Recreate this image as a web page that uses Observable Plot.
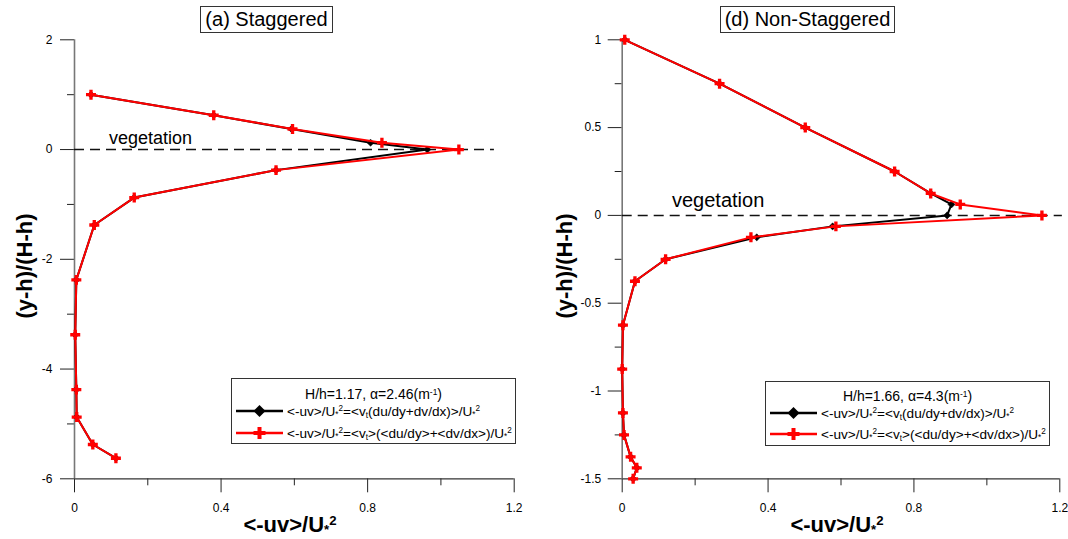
<!DOCTYPE html>
<html><head><meta charset="utf-8">
<script src="https://cdn.jsdelivr.net/npm/d3@7"></script>
<script src="https://cdn.jsdelivr.net/npm/@observablehq/plot@0.6"></script>
<style>
body{margin:0;background:#fff;font-family:Arial,"Liberation Sans",sans-serif;color:#000}
#wrap{position:relative;width:1068px;height:539px;overflow:hidden;background:#fff}
.panel{position:absolute;top:0}
.title{position:absolute;top:6px;height:25px;border:1px solid #333;font-size:20px;line-height:25px;text-align:center;white-space:nowrap}
.ylab{position:absolute;font-size:22px;font-weight:bold;white-space:nowrap;transform:translate(-50%,-50%) rotate(-90deg)}
.xlab{position:absolute;font-size:22px;font-weight:bold;white-space:nowrap;transform:translate(-50%,-50%)}
.veg{position:absolute;white-space:nowrap;transform:translateY(-50%)}
sub.s{font-size:0.6em;vertical-align:-0.15em;line-height:0}
sup.s{font-size:0.6em;vertical-align:0.55em;line-height:0}
.leg{position:absolute;border:1px solid #333;background:#fff;font-size:13.6px}
.leg .lt{position:absolute;left:0;right:0;text-align:center;white-space:nowrap;transform:translateY(-50%)}
.leg .row{position:absolute;white-space:nowrap;transform:translateY(-50%)}
.leg svg{position:absolute;overflow:visible}
sub.t{font-size:0.6em;vertical-align:-0.3em;line-height:0}
sup.m{font-size:0.6em;vertical-align:0.5em;line-height:0}
</style></head><body><div id="wrap"></div>
<script>
// ---- data ----
const yStag = [1, 0.625, 0.375, 0.125, 0, -0.375, -0.875, -1.375, -2.375, -3.375, -4.375, -4.875, -5.375, -5.625];
const stagBlack = [0.045, 0.380, 0.592, 0.808, 0.963, 0.550, 0.163, 0.054, 0.005, 0.002, 0.005, 0.006, 0.050, 0.113];
const stagRed   = [0.045, 0.380, 0.595, 0.839, 1.049, 0.550, 0.163, 0.054, 0.005, 0.002, 0.005, 0.006, 0.050, 0.113];

const yNon = [1, 0.75, 0.5, 0.25, 0.125, 0.0625, 0, -0.0625, -0.125, -0.25, -0.375, -0.625, -0.875, -1.125, -1.25, -1.375, -1.4375, -1.5];
const nonBlack = [0.007, 0.267, 0.502, 0.747, 0.846, 0.903, 0.891, 0.577, 0.369, 0.119, 0.035, 0.002, 0.000, 0.002, 0.005, 0.023, 0.040, 0.030];
const nonRed   = [0.007, 0.267, 0.502, 0.747, 0.846, 0.927, 1.151, 0.586, 0.353, 0.119, 0.035, 0.002, 0.000, 0.002, 0.005, 0.023, 0.040, 0.030];

const xMajor = [0, 0.4, 0.8, 1.2];
const xMinor = [0.2, 0.6, 1.0];
const stagYMajor = [2, 0, -2, -4, -6];
const stagYMinor = [1, -1, -3, -5];
const nonYMajor = [1, 0.5, 0, -0.5, -1, -1.5];
const nonYMinor = [0.75, 0.25, -0.25, -0.75, -1.25];
const stagYDomain = [-6, 2];
const nonYDomain = [-1.5, 1];
const stagVeg = [0, 1.146];
const nonVeg = [0, 1.207];

const titles = ["(a) Staggered", "(d) Non-Staggered"];
const legendTitles = ["H/h=1.17, \u03b1=2.46(m<sup class='m'>-1</sup>)", "H/h=1.66, \u03b1=4.3(m<sup class='m'>-1</sup>)"];

const U2 = "U<sub class='s'>*</sub><sup class='s'>2</sup>";
const legendBlack = "&lt;-uv&gt;/" + U2 + "=&lt;v<sub class='t'>t</sub>(du/dy+dv/dx)&gt;/" + U2;
const legendRed = "&lt;-uv&gt;/" + U2 + "=&lt;v<sub class='t'>t</sub>&gt;(&lt;du/dy&gt;+&lt;dv/dx&gt;)/" + U2;

function rows(xs, ys) { return ys.map((y, i) => ({x: xs[i], y})); }

function panel({black, red, yDomain, yMajor, yMinor, veg, marginLeft, marginRight, tickPadY}) {
  const F = "Arial, 'Liberation Sans', sans-serif";
  return Plot.plot({
    width: 534, height: 539,
    marginLeft, marginRight, marginTop: 39.3, marginBottom: 60.7,
    x: {domain: [0, 1.2]},
    y: {domain: yDomain},
    style: {fontFamily: F, overflow: "visible", background: "transparent"},
    marks: [
      Plot.axisX({ticks: xMajor, tickSize: 14, tickPadding: 11, fontSize: 12, label: null, tickFormat: d => String(d), stroke: "#222"}),
      Plot.axisX({ticks: xMinor, tickSize: 7, tickFormat: () => "", label: null, stroke: "#222"}),
      Plot.axisY({ticks: yMajor, tickSize: 14, tickPadding: tickPadY, fontSize: 12, label: null, tickFormat: d => String(d), stroke: "#222"}),
      Plot.axisY({ticks: yMinor, tickSize: 7, tickFormat: () => "", label: null, stroke: "#222"}),
      Plot.ruleY([yDomain[0]], {stroke: "#333", strokeWidth: 1.2}),
      Plot.ruleX([0], {stroke: "#777", strokeWidth: 1.6}),
      Plot.ruleY([{y: 0, x1: veg[0], x2: veg[1]}], {y: "y", x1: "x1", x2: "x2", stroke: "#111", strokeWidth: 1.5, strokeDasharray: "10,6"}),
      Plot.line(black, {x: "x", y: "y", stroke: "#000", strokeWidth: 2}),
      Plot.dot(black, {x: "x", y: "y", symbol: "diamond2", r: 3.2, fill: "#000", stroke: "#000", strokeWidth: 0.5}),
      Plot.line(red, {x: "x", y: "y", stroke: "#ff0000", strokeWidth: 2}),
      Plot.dot(red, {x: "x", y: "y", symbol: "cross", r: 4.2, fill: "#ff0000", stroke: "none"})
    ]
  });
}

const wrap = document.getElementById("wrap");

const p1 = panel({black: rows(stagBlack, yStag), red: rows(stagRed, yStag), yDomain: stagYDomain,
  yMajor: stagYMajor, yMinor: stagYMinor, veg: stagVeg, marginLeft: 74, marginRight: 20.3, tickPadY: 8});
p1.classList.add("panel"); p1.style.left = "0px";
wrap.appendChild(p1);

const p2 = panel({black: rows(nonBlack, yNon), red: rows(nonRed, yNon), yDomain: nonYDomain,
  yMajor: nonYMajor, yMinor: nonYMinor, veg: nonVeg, marginLeft: 87.7, marginRight: 8.7, tickPadY: 7});
p2.classList.add("panel"); p2.style.left = "534px";
wrap.appendChild(p2);

function add(html) { wrap.insertAdjacentHTML("beforeend", html); }

// titles
add(`<div class="title" style="left:200px;width:131px">${titles[0]}</div>`);
add(`<div class="title" style="left:720px;width:173px">${titles[1]}</div>`);

// axis labels
const xl = "&lt;-uv&gt;/" + U2;
add(`<div class="xlab" style="left:290px;top:525px">${xl}</div>`);
add(`<div class="xlab" style="left:837px;top:525px">${xl}</div>`);
add(`<div class="ylab" style="left:25px;top:266px">(y-h)/(H-h)</div>`);
add(`<div class="ylab" style="left:565px;top:266px">(y-h)/(H-h)</div>`);

// vegetation labels
add(`<div class="veg" style="left:109px;top:138px;font-size:18px">vegetation</div>`);
add(`<div class="veg" style="left:672px;top:200px;font-size:20px">vegetation</div>`);

// legends
function legend(left, top, w, h, title, tY, bY, rY) {
  const diamond = `<svg style="left:4px;top:${bY}px" width="1" height="1"><line x1="0" x2="47" y1="0" y2="0" stroke="#000" stroke-width="2.5"/><path d="M23.5,-6L29.5,0L23.5,6L17.5,0Z" fill="#000"/></svg>`;
  const cross = `<svg style="left:4px;top:${rY}px" width="1" height="1"><line x1="0" x2="47" y1="0" y2="0" stroke="#ff0000" stroke-width="2.5"/><path d="M21.5,-6h4v4h4v4h-4v4h-4v-4h-4v-4h4Z" fill="#ff0000"/></svg>`;
  add(`<div class="leg" style="left:${left}px;top:${top}px;width:${w}px;height:${h}px">
    <div class="lt" style="top:${tY}px;font-size:14px">${title}</div>
    ${diamond}
    <div class="row" style="left:55px;top:${bY}px">${legendBlack}</div>
    ${cross}
    <div class="row" style="left:55px;top:${rY}px">${legendRed}</div>
  </div>`);
}
legend(231, 378, 283, 64, legendTitles[0], 14.5, 32, 53.5);
legend(765, 381, 283, 63, legendTitles[1], 14, 31, 52);
</script></body></html>
